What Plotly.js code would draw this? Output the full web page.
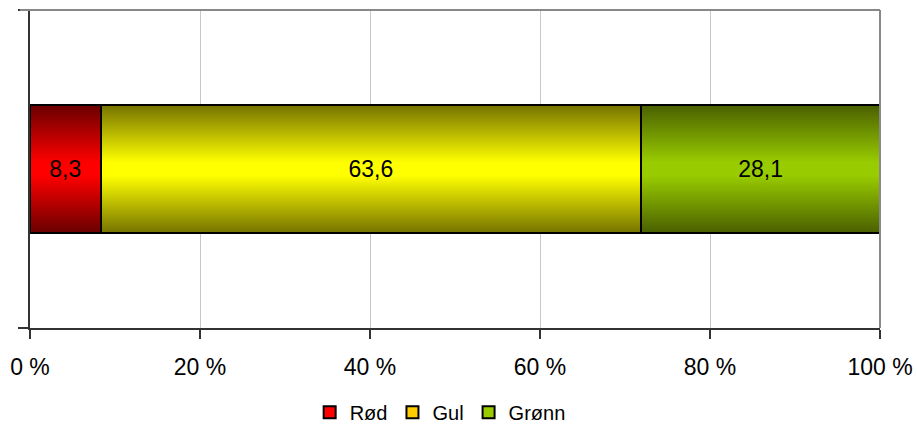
<!DOCTYPE html>
<html><head><meta charset="utf-8">
<script src="https://cdn.plot.ly/plotly-3.0.1.min.js"></script>
<style>body{margin:0;padding:0;background:#fff}#chart{width:917px;height:425px}</style>
</head><body><div id="chart"></div>
<script>
const categories = ["Rød", "Gul", "Grønn"];
const values = [8.3, 63.6, 28.1];
const legendColors = ["#FF0000", "#FFCC00", "#99CC00"];
const gradDark = ["#6a0000", "#767400", "#4a6000"];
const gradBright = ["#ff0000", "#ffff00", "#99cc00"];
const tickVals = [0, 20, 40, 60, 80, 100];
const tickText = ["0 %", "20 %", "40 %", "60 %", "80 %", "100 %"];

const font = "Liberation Sans, Arial, sans-serif";
const traces = categories.map((c, i) => ({
  type: "bar", orientation: "h", name: c,
  x: [values[i]], y: [0], width: 0.4,
  marker: {color: legendColors[i], line: {color: "#000", width: 2}},
  texttemplate: "%{x:.1f}", textposition: "inside", insidetextanchor: "middle",
  textangle: 0, textfont: {family: font, size: 23, color: "#000"},
  hoverinfo: "skip"
}));
const layout = {
  width: 917, height: 425, separators: ", ",
  barmode: "stack", paper_bgcolor: "#fff", plot_bgcolor: "#fff",
  margin: {l: 30, r: 37, t: 10, b: 97},
  font: {family: font, color: "#000"},
  xaxis: {range: [0, 100], tickmode: "array", tickvals: tickVals, ticktext: tickText,
    showgrid: true, gridcolor: "#c8c8c8", gridwidth: 1, zeroline: false,
    showline: true, linecolor: "#333", linewidth: 2,
    ticks: "outside", ticklen: 9, tickcolor: "#333", tickwidth: 1.5,
    ticklabelstandoff: 8, tickfont: {family: font, size: 23, color: "#000"}},
  yaxis: {range: [-0.5, 0.5], tickvals: [-0.5, 0.5], showticklabels: false,
    showgrid: false, zeroline: false, showline: true, linecolor: "#333", linewidth: 2,
    ticks: "outside", ticklen: 10, tickcolor: "#333", tickwidth: 1.5},
  shapes: [
    {type: "line", xref: "paper", yref: "paper", x0: -0.012, x1: 1, y0: 1, y1: 1, line: {color: "#888", width: 2}},
    {type: "line", xref: "paper", yref: "paper", x0: 1, x1: 1, y0: 0, y1: 1, line: {color: "#888", width: 2}}
  ],
  showlegend: true,
  legend: {orientation: "h", x: 0.48, xanchor: "center", xref: "container",
    y: 0.03, yanchor: "middle", yref: "container",
    traceorder: "normal", font: {family: font, size: 20, color: "#000"}, itemwidth: 30},
};
Plotly.newPlot("chart", traces, layout, {displayModeBar: false, staticPlot: true}).then(gd => {
  const svg = gd.querySelector(".main-svg");
  const ns = "http://www.w3.org/2000/svg";
  let defs = svg.querySelector("defs");
  if (!defs) { defs = document.createElementNS(ns, "defs"); svg.insertBefore(defs, svg.firstChild); }
  categories.forEach((c, i) => {
    const g = document.createElementNS(ns, "linearGradient");
    g.setAttribute("id", "barGrad" + i);
    g.setAttribute("x1", "0"); g.setAttribute("y1", "0"); g.setAttribute("x2", "0"); g.setAttribute("y2", "1");
    [[0, gradDark[i]], [0.45, gradBright[i]], [0.55, gradBright[i]], [1, gradDark[i]]].forEach(([o, col]) => {
      const s = document.createElementNS(ns, "stop");
      s.setAttribute("offset", o); s.setAttribute("stop-color", col);
      g.appendChild(s);
    });
    defs.appendChild(g);
  });
  gd.querySelectorAll(".barlayer .trace").forEach((t, i) => {
    t.querySelectorAll(".point path").forEach(p => { p.style.fill = "url(#barGrad" + i + ")"; });
  });
});
</script></body></html>
